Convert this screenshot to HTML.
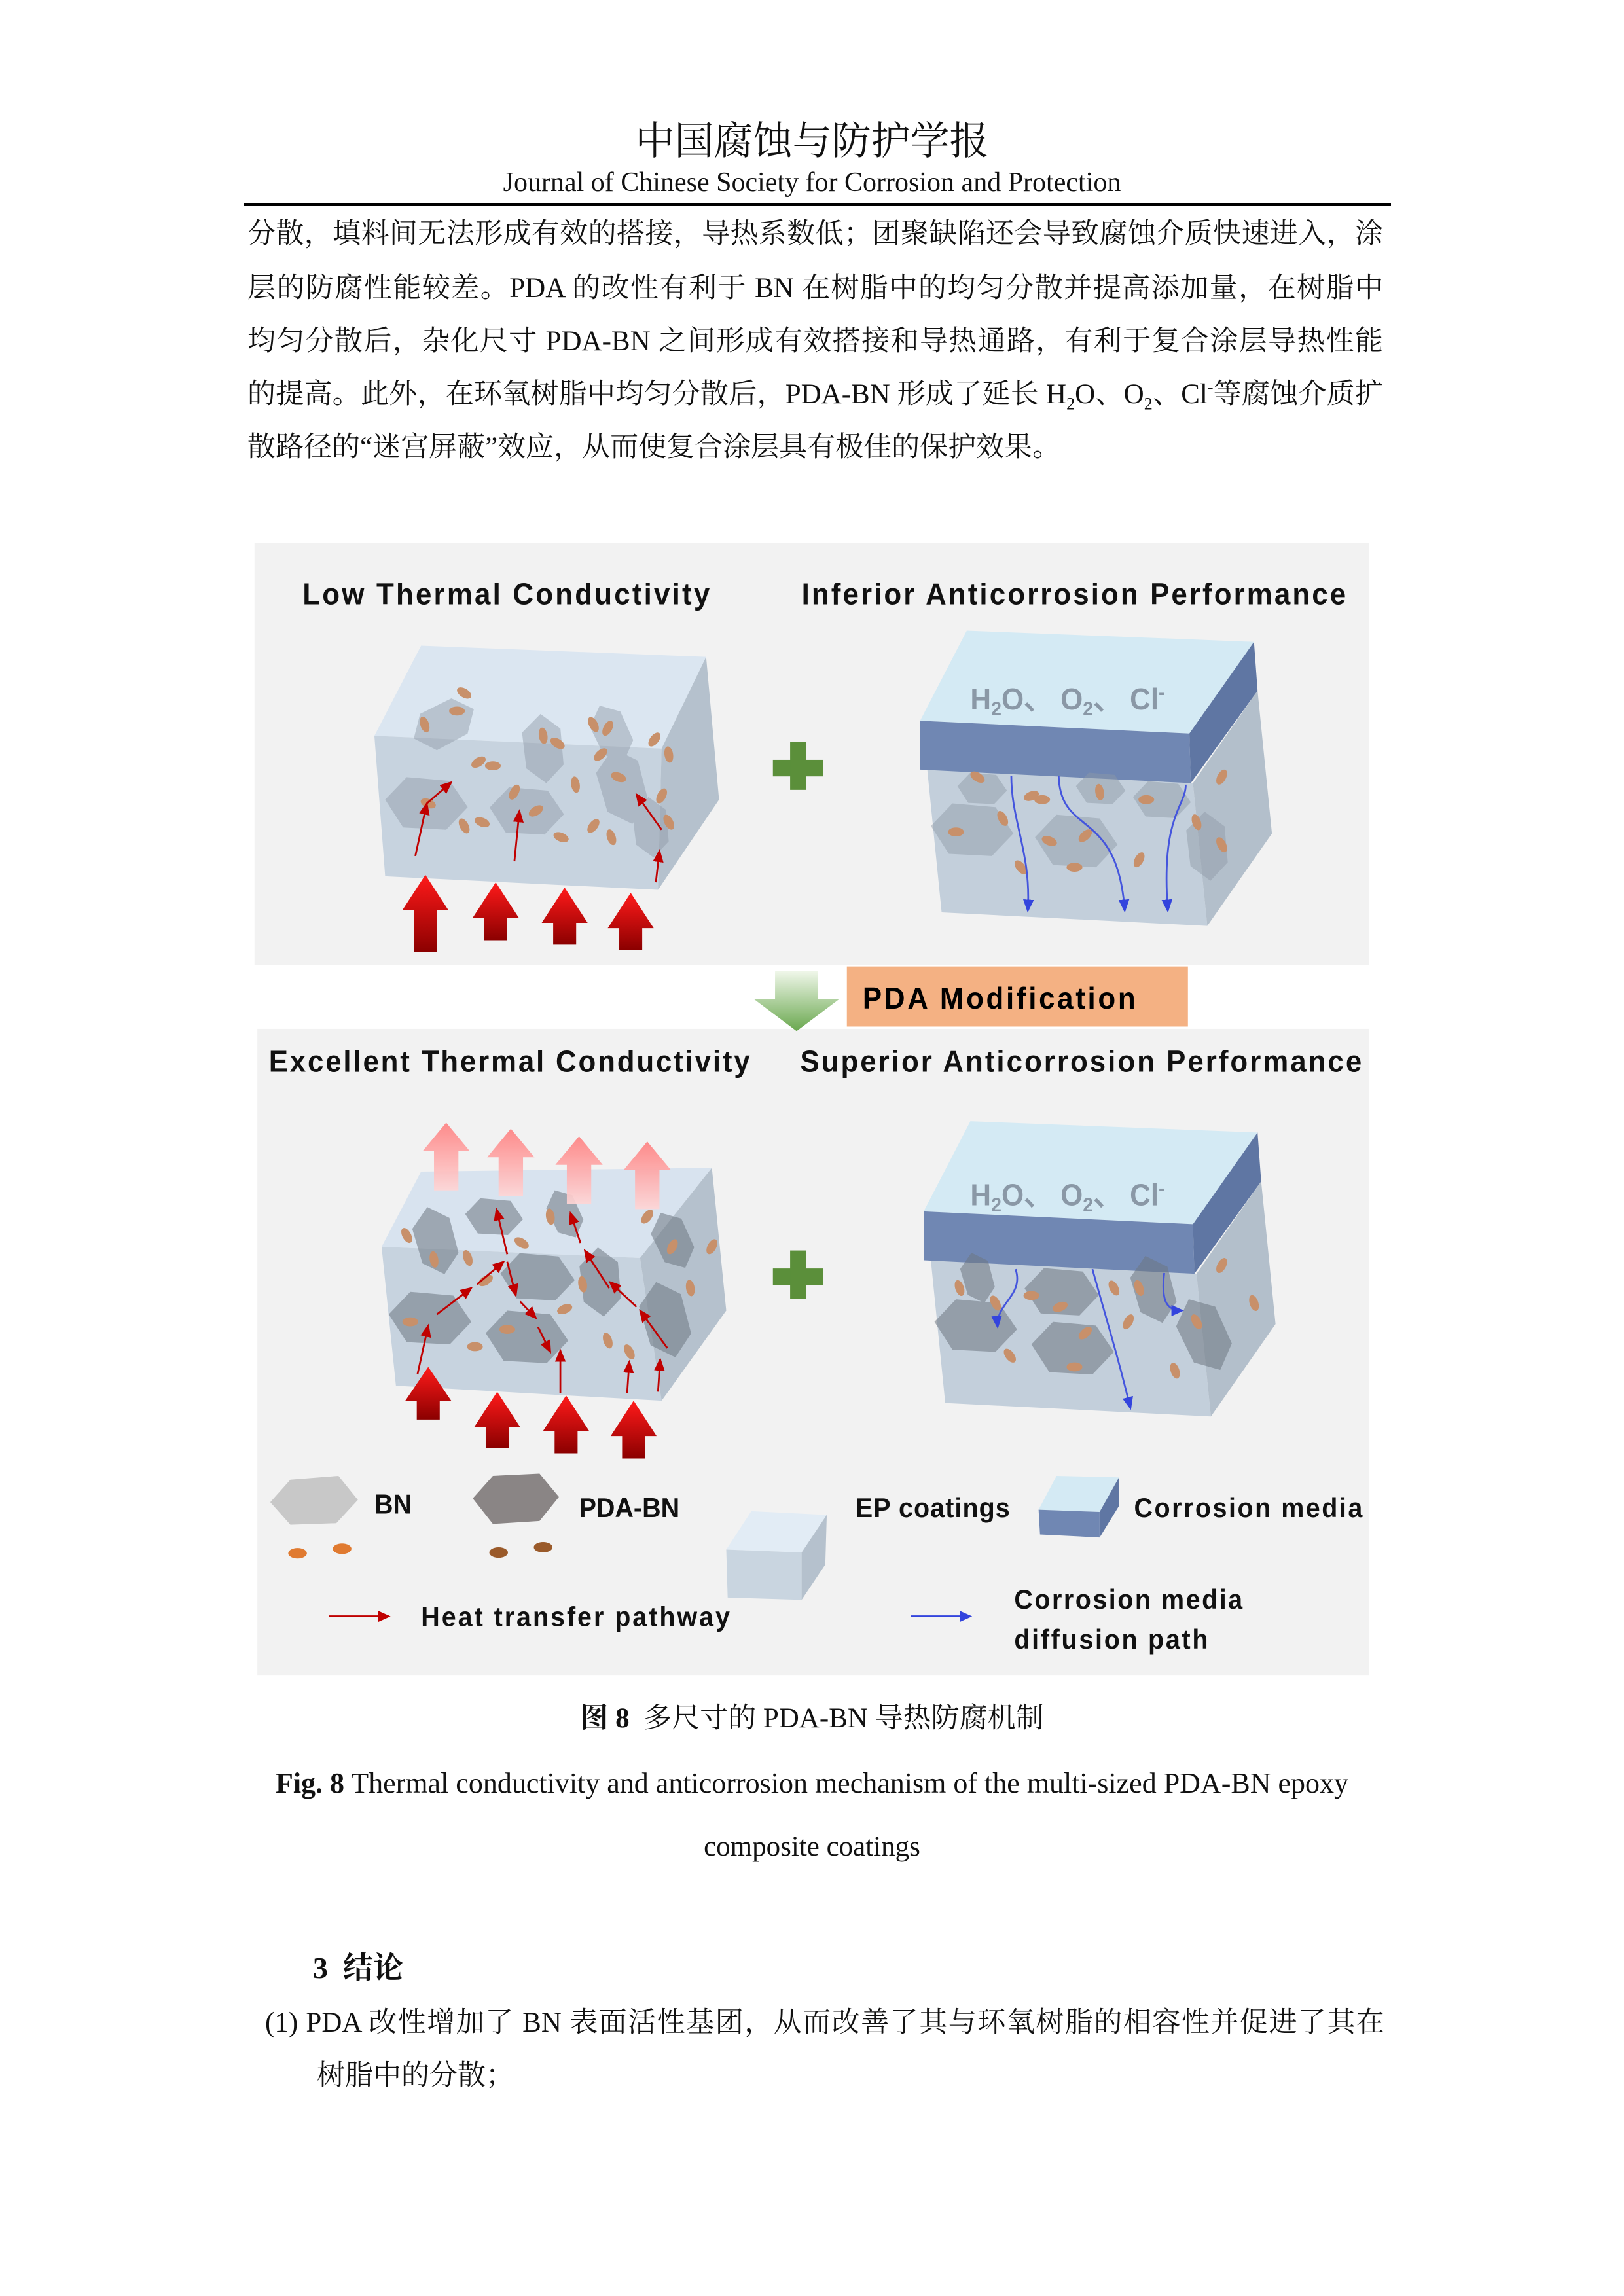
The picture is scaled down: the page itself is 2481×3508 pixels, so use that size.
<!DOCTYPE html>
<html><head><meta charset="utf-8">
<style>
html,body{margin:0;padding:0;background:#fff;}
body{width:2481px;height:3508px;position:relative;overflow:hidden;font-family:"Liberation Serif","Noto Serif CJK SC",serif;color:#111;}
.abs{position:absolute;}
.line{position:absolute;left:378px;width:1735px;font-size:43px;line-height:60px;white-space:nowrap;text-align:justify;text-align-last:justify;}
.line.last{text-align-last:left;}
sub,sup{font-size:26px;line-height:0;}
</style></head><body>
<div class="abs" style="left:0;width:2481px;top:178px;text-align:center;font-size:60px;line-height:76px;font-family:'Liberation Serif','Noto Serif CJK SC',serif;">中国腐蚀与防护学报</div>
<div class="abs" style="left:0;width:2481px;top:253px;text-align:center;font-size:42px;line-height:52px;">Journal of Chinese Society for Corrosion and Protection</div>
<div class="abs" style="left:372px;width:1753px;top:310px;height:5px;background:#000;"></div>

<div class="line" style="top:328px;">分散，填料间无法形成有效的搭接，导热系数低；团聚缺陷还会导致腐蚀介质快速进入，涂</div>
<div class="line" style="top:411px;">层的防腐性能较差。PDA 的改性有利于 BN 在树脂中的均匀分散并提高添加量，在树脂中</div>
<div class="line" style="top:492px;">均匀分散后，杂化尺寸 PDA-BN 之间形成有效搭接和导热通路，有利于复合涂层导热性能</div>
<div class="line" style="top:573px;">的提高。此外，在环氧树脂中均匀分散后，PDA-BN 形成了延长 H<sub>2</sub>O、O<sub>2</sub>、Cl<sup>-</sup>等腐蚀介质扩</div>
<div class="line last" style="top:654px;">散路径的“迷宫屏蔽”效应，从而使复合涂层具有极佳的保护效果。</div>

<svg class="abs" style="left:380px;top:820px;" width="1720" height="1800" viewBox="0 0 1568 1568" preserveAspectRatio="none">
<defs>
<linearGradient id="rg" x1="0" y1="0" x2="0" y2="1"><stop offset="0" stop-color="#ff1a1a"/><stop offset="1" stop-color="#8b0000"/></linearGradient>
<linearGradient id="pg" x1="0" y1="0" x2="0" y2="1"><stop offset="0" stop-color="#ff8080"/><stop offset="1" stop-color="#ffd6d6"/></linearGradient>
<linearGradient id="gg" x1="0" y1="0" x2="0" y2="1"><stop offset="0" stop-color="#f0f7ea"/><stop offset="1" stop-color="#6aa84f"/></linearGradient>
<marker id="ma" markerWidth="8" markerHeight="8" refX="6" refY="3" orient="auto"><path d="M0,0 L7,3 L0,6 z" fill="#c00000"/></marker>
<marker id="mb" markerWidth="8" markerHeight="8" refX="6" refY="3" orient="auto"><path d="M0,0 L7,3 L0,6 z" fill="#3344dd"/></marker>
<g id="hex"><polygon points="-55,-5 -25,-35 35,-30 60,5 30,35 -30,32" /></g>
<g id="oval"><ellipse rx="11" ry="6"/></g>
</defs>
<rect x="8" y="8" width="1552" height="562" fill="#f2f2f2"/>
<rect x="12" y="655" width="1548" height="860" fill="#f2f2f2"/>
<g font-family="Liberation Sans, sans-serif" font-weight="bold" fill="#111">
<text x="75" y="90" font-size="40" textLength="567">Low Thermal Conductivity</text>
<text x="770" y="90" font-size="40" textLength="758">Inferior Anticorrosion Performance</text>
<text x="28" y="712" font-size="40" textLength="670">Excellent Thermal Conductivity</text>
<text x="768" y="712" font-size="40" textLength="782">Superior Anticorrosion Performance</text>
</g>
<rect x="833" y="572" width="475" height="80" fill="#f4b183"/>
<text x="855" y="628" font-family="Liberation Sans, sans-serif" font-weight="bold" font-size="40" textLength="380">PDA Modification</text>
<polygon points="733,578 793,578 793,615 823,615 763,658 703,615 733,615" fill="url(#gg)"/>

<polygon points="175,265 240,145 637,160 575,282" fill="#dbe6f1"/>
<polygon points="175,265 575,282 570,470 190,452" fill="#c7d3df"/>
<polygon points="575,282 637,160 655,350 570,470" fill="#b5c1cd"/>
<g fill="#8e99a6" opacity="0.45">
<use href="#hex" transform="translate(245,355)"/><use href="#hex" transform="translate(385,365) scale(0.9)"/><use href="#hex" transform="translate(520,330) rotate(70) scale(0.9)"/><use href="#hex" transform="translate(270,250) rotate(-30) scale(0.8)"/><use href="#hex" transform="translate(410,280) rotate(80) scale(0.8)"/><use href="#hex" transform="translate(505,260) rotate(60) scale(0.7)"/><use href="#hex" transform="translate(560,385) rotate(80) scale(0.7)"/>
</g>
<g fill="#c8906a">
<use href="#oval" transform="translate(300,208) rotate(30)"/><use href="#oval" transform="translate(290,232)"/><use href="#oval" transform="translate(245,250) rotate(70)"/><use href="#oval" transform="translate(320,300) rotate(-30)"/><use href="#oval" transform="translate(340,305)"/><use href="#oval" transform="translate(250,355) rotate(20)"/><use href="#oval" transform="translate(300,385) rotate(60)"/><use href="#oval" transform="translate(370,340) rotate(-60)"/><use href="#oval" transform="translate(410,265) rotate(80)"/><use href="#oval" transform="translate(430,275) rotate(30)"/><use href="#oval" transform="translate(400,365) rotate(-30)"/><use href="#oval" transform="translate(435,400) rotate(20)"/><use href="#oval" transform="translate(480,250) rotate(60)"/><use href="#oval" transform="translate(500,255) rotate(-60)"/><use href="#oval" transform="translate(490,290) rotate(-40)"/><use href="#oval" transform="translate(515,320) rotate(20)"/><use href="#oval" transform="translate(480,385) rotate(-50)"/><use href="#oval" transform="translate(505,400) rotate(70)"/><use href="#oval" transform="translate(565,270) rotate(-50)"/><use href="#oval" transform="translate(585,290) rotate(80)"/><use href="#oval" transform="translate(575,345) rotate(-60)"/><use href="#oval" transform="translate(585,380) rotate(60)"/><use href="#oval" transform="translate(455,330) rotate(80)"/><use href="#oval" transform="translate(325,380) rotate(20)"/>
</g>
<g stroke="#c00000" stroke-width="2.5" fill="none" marker-end="url(#ma)">
<line x1="232" y1="425" x2="248" y2="355"/><line x1="248" y1="355" x2="282" y2="327"/><line x1="370" y1="432" x2="377" y2="365"/><line x1="575" y1="390" x2="540" y2="343"/><line x1="567" y1="460" x2="572" y2="418"/>
</g>
<g fill="url(#rg)">
<polygon points="230,553 262,553 262,497 278,497 246,450 214,497 230,497"/>
<polygon points="328,537 360,537 360,507 376,507 344,460 312,507 328,507"/>
<polygon points="424,543 456,543 456,514 472,514 440,467 408,514 424,514"/>
<polygon points="516,550 548,550 548,521 564,521 532,474 500,521 516,521"/>
</g>
<g fill="#5b8f3a"><rect x="730" y="297" width="70" height="22"/><rect x="754" y="273" width="22" height="64"/>
<rect x="730" y="974" width="70" height="22"/><rect x="754" y="950" width="22" height="64"/></g>

<g id="cblk">
<polygon points="945,310 1315,328 1335,518 965,500" fill="#c3cfdb"/>
<polygon points="1315,328 1405,205 1425,395 1335,518" fill="#b3bfcb"/>
<polygon points="935,245 1000,125 1400,140 1310,262" fill="#d4eaf4"/>
<polygon points="935,245 1310,262 1312,328 935,310" fill="#7087b3"/>
<polygon points="1310,262 1400,140 1405,205 1312,328" fill="#5f76a3"/>
</g>
<g fill="#8e99a6" opacity="0.45">
<use href="#hex" transform="translate(1005,390)"/><use href="#hex" transform="translate(1150,405)"/><use href="#hex" transform="translate(1020,335) scale(0.6)"/><use href="#hex" transform="translate(1270,350) scale(0.7)"/><use href="#hex" transform="translate(1335,410) rotate(80) scale(0.8)"/><use href="#hex" transform="translate(1185,335) scale(0.6)"/>
</g>
<g fill="#c8906a">
<use href="#oval" transform="translate(985,393)"/><use href="#oval" transform="translate(1050,375) rotate(60)"/><use href="#oval" transform="translate(1090,345) rotate(-20)"/><use href="#oval" transform="translate(1105,350)"/><use href="#oval" transform="translate(1115,405) rotate(20)"/><use href="#oval" transform="translate(1165,398) rotate(-40)"/><use href="#oval" transform="translate(1185,340) rotate(80)"/><use href="#oval" transform="translate(1150,440)"/><use href="#oval" transform="translate(1240,430) rotate(-60)"/><use href="#oval" transform="translate(1250,350)"/><use href="#oval" transform="translate(1320,380) rotate(70)"/><use href="#oval" transform="translate(1355,320) rotate(-60)"/><use href="#oval" transform="translate(1355,410) rotate(60)"/><use href="#oval" transform="translate(1015,320) rotate(30)"/><use href="#oval" transform="translate(1075,440) rotate(50)"/>
</g>
<g stroke="#4455dd" stroke-width="2.5" fill="none" marker-end="url(#mb)">
<path d="M1062,318 C1062,380 1090,420 1085,498"/><path d="M1128,318 C1130,400 1210,360 1220,498"/><path d="M1305,330 C1305,360 1270,370 1280,498"/>
</g>
<g font-family="Liberation Sans, sans-serif" font-weight="bold" font-size="40" fill="#8a98a6">
<text x="1005" y="230">H<tspan font-size="26" dy="8">2</tspan><tspan dy="-8">O、 O</tspan><tspan font-size="26" dy="8">2</tspan><tspan dy="-8">、 Cl</tspan><tspan font-size="26" dy="-14">-</tspan></text>
</g>

<polygon points="185,945 240,845 645,840 545,960" fill="#d8e3ef"/>
<polygon points="185,945 545,960 575,1150 205,1130" fill="#c7d3df"/>
<polygon points="545,960 645,840 665,1030 575,1150" fill="#b5c1cd"/>
<g fill="#6e7782" opacity="0.55">
<use href="#hex" transform="translate(250,1040)"/><use href="#hex" transform="translate(385,1065)"/><use href="#hex" transform="translate(580,1040) rotate(70) scale(0.9)"/><use href="#hex" transform="translate(260,935) rotate(70) scale(0.8)"/><use href="#hex" transform="translate(400,985) scale(0.9)"/><use href="#hex" transform="translate(490,990) rotate(80) scale(0.8)"/><use href="#hex" transform="translate(340,905) scale(0.7)"/><use href="#hex" transform="translate(440,900) rotate(60) scale(0.6)"/><use href="#hex" transform="translate(590,935) rotate(60) scale(0.7)"/>
</g>
<g fill="#c8906a">
<use href="#oval" transform="translate(220,930) rotate(60)"/><use href="#oval" transform="translate(258,962) rotate(80)"/><use href="#oval" transform="translate(305,960) rotate(70)"/><use href="#oval" transform="translate(330,990) rotate(-30)"/><use href="#oval" transform="translate(225,1045)"/><use href="#oval" transform="translate(315,1078)"/><use href="#oval" transform="translate(360,1055)"/><use href="#oval" transform="translate(440,1028) rotate(-20)"/><use href="#oval" transform="translate(465,995) rotate(80)"/><use href="#oval" transform="translate(500,1070) rotate(70)"/><use href="#oval" transform="translate(530,1085) rotate(60)"/><use href="#oval" transform="translate(590,945) rotate(-60)"/><use href="#oval" transform="translate(615,1000) rotate(80)"/><use href="#oval" transform="translate(645,945) rotate(-60)"/><use href="#oval" transform="translate(420,905) rotate(80)"/><use href="#oval" transform="translate(380,940) rotate(30)"/><use href="#oval" transform="translate(555,905) rotate(-50)"/>
</g>
<g stroke="#c00000" stroke-width="2.5" fill="none" marker-end="url(#ma)">
<line x1="235" y1="1115" x2="250" y2="1050"/><line x1="262" y1="1035" x2="310" y2="1000"/><line x1="318" y1="995" x2="355" y2="965"/><line x1="360" y1="955" x2="345" y2="895"/><line x1="360" y1="965" x2="372" y2="1010"/><line x1="378" y1="1018" x2="400" y2="1040"/><line x1="403" y1="1052" x2="420" y2="1085"/><line x1="434" y1="1140" x2="434" y2="1083"/><line x1="502" y1="1000" x2="468" y2="950"/><line x1="462" y1="940" x2="448" y2="900"/><line x1="540" y1="1025" x2="503" y2="992"/><line x1="583" y1="1080" x2="545" y2="1030"/><line x1="527" y1="1140" x2="530" y2="1098"/><line x1="570" y1="1138" x2="573" y2="1095"/>
</g>
<g fill="url(#rg)">
<polygon points="234,1175 266,1175 266,1150 282,1150 250,1105 218,1150 234,1150"/>
<polygon points="330,1213 362,1213 362,1185 378,1185 346,1138 314,1185 330,1185"/>
<polygon points="426,1220 458,1220 458,1190 474,1190 442,1143 410,1190 426,1190"/>
<polygon points="520,1227 552,1227 552,1197 568,1197 536,1150 504,1197 520,1197"/>
</g>
<g fill="url(#pg)" opacity="0.9">
<polygon points="258,870 292,870 292,818 308,818 275,780 242,818 258,818"/>
<polygon points="348,878 382,878 382,826 398,826 365,788 332,826 348,826"/>
<polygon points="443,888 477,888 477,836 493,836 460,798 427,836 443,836"/>
<polygon points="538,895 572,895 572,843 588,843 555,805 522,843 538,843"/>
</g>

<use href="#cblk" transform="translate(5,653)"/>
<g fill="#6e7782" opacity="0.55">
<use href="#hex" transform="translate(1010,1050)"/><use href="#hex" transform="translate(1145,1080)"/><use href="#hex" transform="translate(1130,1005) scale(0.9)"/><use href="#hex" transform="translate(1260,1000) rotate(70) scale(0.8)"/><use href="#hex" transform="translate(1330,1060) rotate(60) scale(0.9)"/><use href="#hex" transform="translate(1015,985) rotate(70) scale(0.6)"/>
</g>
<g fill="#c8906a">
<use href="#oval" transform="translate(990,1000) rotate(70)"/><use href="#oval" transform="translate(1040,1020) rotate(60)"/><use href="#oval" transform="translate(1090,1010)"/><use href="#oval" transform="translate(1060,1090) rotate(50)"/><use href="#oval" transform="translate(1130,1025) rotate(-20)"/><use href="#oval" transform="translate(1150,1105)"/><use href="#oval" transform="translate(1165,1060) rotate(-40)"/><use href="#oval" transform="translate(1225,1045) rotate(-60)"/><use href="#oval" transform="translate(1240,1000) rotate(70)"/><use href="#oval" transform="translate(1290,1110) rotate(70)"/><use href="#oval" transform="translate(1355,970) rotate(-60)"/><use href="#oval" transform="translate(1400,1020) rotate(70)"/><use href="#oval" transform="translate(1320,1045) rotate(60)"/><use href="#oval" transform="translate(1205,1000) rotate(60)"/>
</g>
<g stroke="#4455dd" stroke-width="2.5" fill="none" marker-end="url(#mb)">
<path d="M1068,975 C1080,1010 1040,1020 1043,1052"/><path d="M1175,975 C1200,1060 1210,1090 1228,1160"/><path d="M1275,980 C1270,1020 1280,1030 1300,1030"/>
</g>
<g font-family="Liberation Sans, sans-serif" font-weight="bold" font-size="40" fill="#8a98a6">
<text x="1005" y="890">H<tspan font-size="26" dy="8">2</tspan><tspan dy="-8">O、 O</tspan><tspan font-size="26" dy="8">2</tspan><tspan dy="-8">、 Cl</tspan><tspan font-size="26" dy="-14">-</tspan></text>
</g>

<polygon points="30,1285 58,1255 125,1250 152,1282 122,1313 58,1315" fill="#c8c8c8"/>
<polygon points="312,1280 340,1250 405,1247 432,1278 405,1310 340,1314" fill="#8a8585"/>
<ellipse cx="68" cy="1353" rx="13" ry="7" fill="#e07a30"/><ellipse cx="130" cy="1347" rx="13" ry="7" fill="#e07a30"/>
<ellipse cx="348" cy="1352" rx="13" ry="7" fill="#9a5a2a"/><ellipse cx="410" cy="1345" rx="13" ry="7" fill="#9a5a2a"/>
<polygon points="665,1348 700,1297 805,1302 770,1352" fill="#e2ecf5"/>
<polygon points="665,1348 770,1352 770,1415 667,1412" fill="#c9d5e0"/>
<polygon points="770,1352 805,1302 803,1368 770,1415" fill="#b5c1cd"/>
<polygon points="1100,1295 1125,1250 1212,1252 1185,1298" fill="#d4eaf4"/>
<polygon points="1100,1295 1185,1298 1185,1332 1102,1328" fill="#7087b3"/>
<polygon points="1185,1298 1212,1252 1212,1290 1185,1332" fill="#5f76a3"/>
<line x1="112" y1="1437" x2="195" y2="1437" stroke="#c00000" stroke-width="2.5" marker-end="url(#ma)"/>
<line x1="922" y1="1437" x2="1005" y2="1437" stroke="#3344dd" stroke-width="2.5" marker-end="url(#mb)"/>
<g font-family="Liberation Sans, sans-serif" font-weight="bold" font-size="36" fill="#111">
<text x="175" y="1300">BN</text>
<text x="460" y="1305">PDA-BN</text>
<text x="845" y="1305" textLength="215">EP coatings</text>
<text x="1233" y="1305" textLength="318">Corrosion media</text>
<text x="240" y="1450" textLength="430">Heat transfer pathway</text>
<text x="1066" y="1427" textLength="318">Corrosion media</text>
<text x="1066" y="1480" textLength="270">diffusion path</text>
</g>
</svg>

<div class="abs" style="left:0;width:2481px;top:2598px;text-align:center;font-size:43px;line-height:56px;"><b>图 8</b>&nbsp; 多尺寸的 PDA-BN 导热防腐机制</div>
<div class="abs" style="left:0;width:2481px;top:2697px;text-align:center;font-size:44px;line-height:56px;"><b>Fig. 8</b> Thermal conductivity and anticorrosion mechanism of the multi-sized PDA-BN epoxy</div>
<div class="abs" style="left:0;width:2481px;top:2794px;text-align:center;font-size:43px;line-height:56px;">composite coatings</div>
<div class="abs" style="left:478px;top:2976px;font-size:46px;line-height:62px;font-weight:bold;">3&nbsp; 结论</div>
<div class="abs" style="left:405px;width:1710px;top:3061px;font-size:43px;line-height:60px;white-space:nowrap;text-align:justify;text-align-last:justify;">(1) PDA 改性增加了 BN 表面活性基团，从而改善了其与环氧树脂的相容性并促进了其在</div>
<div class="abs" style="left:484px;top:3142px;font-size:43px;line-height:60px;white-space:nowrap;">树脂中的分散；</div>
</body></html>
